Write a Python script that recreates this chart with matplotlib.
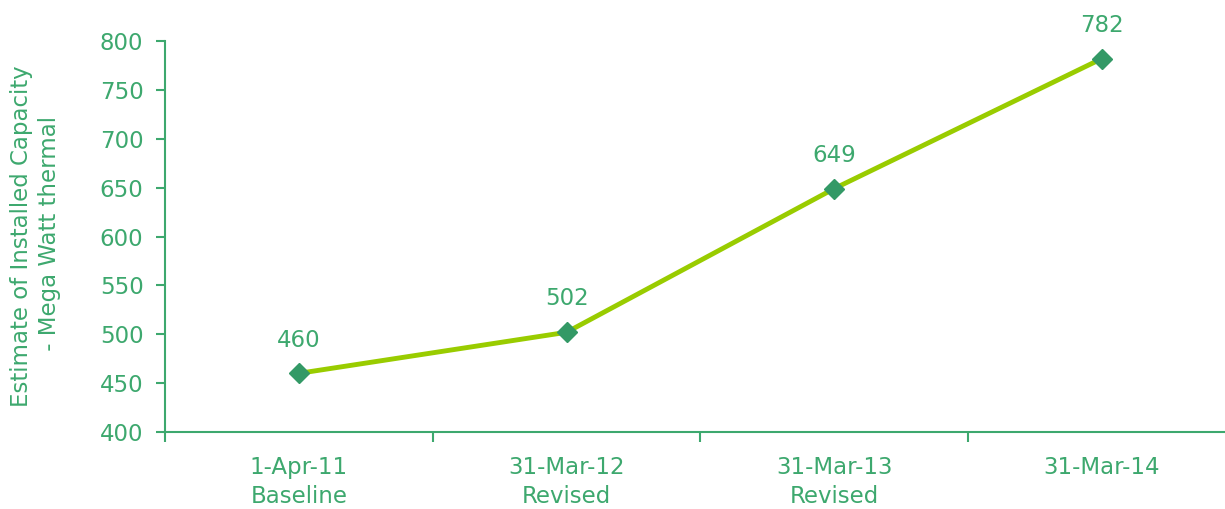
import matplotlib.pyplot as plt
from matplotlib.ticker import FixedLocator, NullFormatter

dates = ["1-Apr-11\nBaseline", "31-Mar-12\nRevised", "31-Mar-13\nRevised", "31-Mar-14"]
capacity = [460, 502, 649, 782]

text_green = "#3DA86E"
line_green = "#99CC00"
marker_green = "#339966"

plt.rcParams["font.family"] = ["DejaVu Sans"]
fs = 16.5

fig = plt.figure(figsize=(12.25, 5.09), dpi=100)
ax = fig.add_axes([165 / 1225, 1 - 432 / 509, 1 - 165 / 1225, (432 - 41) / 509])

xs = list(range(len(capacity)))
ax.plot(xs, capacity, color=line_green, linewidth=3.5, zorder=2)
ax.plot(xs, capacity, linestyle="none", marker="D", markersize=10.5,
        color=marker_green, zorder=3)

for x, v in zip(xs, capacity):
    ax.annotate(str(v), (x, v), xytext=(0, 24), textcoords="offset points",
                ha="center", va="center", color=text_green, fontsize=fs)

ax.set_ylim(400, 800)
ax.set_yticks(range(400, 801, 50))
ax.set_xlim(-0.5, 3.46)
ax.set_xticks(xs)
ax.set_xticklabels(dates, linespacing=1.35)
ax.xaxis.set_minor_locator(FixedLocator([-0.5, 0.5, 1.5, 2.5, 3.5]))
ax.xaxis.set_minor_formatter(NullFormatter())

for side in ("top", "right"):
    ax.spines[side].set_visible(False)
for side in ("left", "bottom"):
    ax.spines[side].set_color(text_green)
    ax.spines[side].set_linewidth(1.5)

ax.tick_params(axis="y", colors=text_green, labelsize=fs, length=6.5, width=1.5, pad=9)
ax.tick_params(axis="x", which="major", length=0, labelcolor=text_green,
               labelsize=fs, pad=17)
ax.tick_params(axis="x", which="minor", length=7, width=1.5, color=text_green)

ax.set_ylabel("Estimate of Installed Capacity\n - Mega Watt thermal",
              color=text_green, fontsize=16.5, linespacing=1.3)
ax.yaxis.set_label_coords((60 - 165) / 1070, 0.5)

fig.savefig("out.png", dpi=100)
